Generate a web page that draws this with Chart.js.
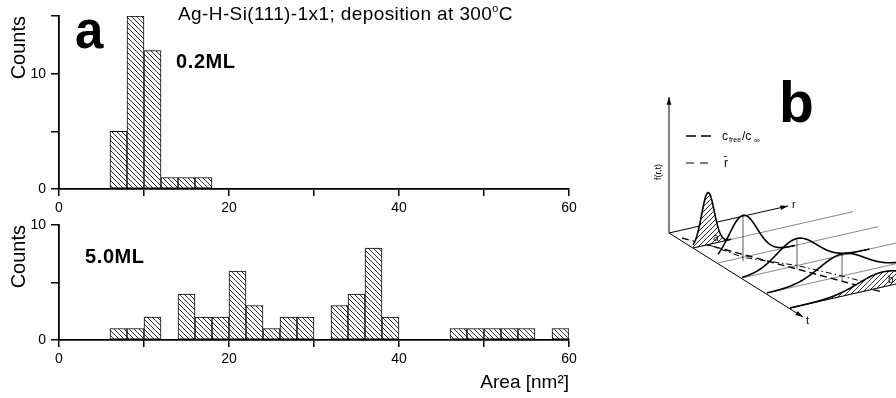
<!DOCTYPE html>
<html><head><meta charset="utf-8">
<script src="https://cdn.jsdelivr.net/npm/chart.js@4/dist/chart.umd.min.js"></script>
<style>
html,body{margin:0;padding:0;background:#fff;}
body{width:896px;height:398px;overflow:hidden;position:relative;font-family:"Liberation Sans",Arial,sans-serif;}
canvas{position:absolute;}
.lbl{position:absolute;white-space:nowrap;line-height:1;color:#000;}
</style></head><body>
<canvas id="top" width="620" height="218" style="left:0;top:0"></canvas>
<canvas id="bot" width="620" height="193" style="left:0;top:205px"></canvas>
<canvas id="sch" width="276" height="300" style="left:620px;top:60px"></canvas>
<div class="lbl" style="left:178px;top:4px;font-size:19px;letter-spacing:0.4px">Ag-H-Si(111)-1x1; deposition at 300<span style="font-size:11px;position:relative;top:-8px">o</span>C</div>
<div class="lbl" style="left:75px;top:5px;font-size:51px;font-weight:bold">a</div>
<div class="lbl" style="left:176px;top:51px;font-size:20px;font-weight:bold;letter-spacing:0.6px">0.2ML</div>
<div class="lbl" style="left:85px;top:246px;font-size:20px;font-weight:bold;letter-spacing:0.6px">5.0ML</div>
<div class="lbl" style="left:779px;top:74px;font-size:57px;font-weight:bold">b</div>
<script>
// ---- data ----
const binCenters = [1,3,5,7,9,11,13,15,17,19,21,23,25,27,29,31,33,35,37,39,41,43,45,47,49,51,53,55,57,59]; // Area [nm^2], bins 2 nm^2 wide
const counts02ML = [0,0,0,5,15,12,1,1,1,0,0,0,0,0,0,0,0,0,0,0,0,0,0,0,0,0,0,0,0,0];
const counts50ML = [0,0,0,1,1,2,0,4,2,2,6,3,1,2,2,0,3,4,8,2,0,0,0,1,1,1,1,1,0,1];
const xTickLabels = [0,20,40,60];
const yTickLabels = [0,10];

function makeHatch(spacing, forward) {
  const c = document.createElement('canvas');
  c.width = spacing; c.height = spacing;
  const g = c.getContext('2d');
  g.fillStyle = '#fff'; g.fillRect(0,0,spacing,spacing);
  g.strokeStyle = '#1a1a1a'; g.lineWidth = 0.9;
  g.beginPath();
  if (!forward) {
    g.moveTo(-1,-1); g.lineTo(spacing+1,spacing+1);
    g.moveTo(-1,spacing-1); g.lineTo(1,spacing+1);
    g.moveTo(spacing-1,-1); g.lineTo(spacing+1,1);
  } else {
    g.moveTo(-1,spacing+1); g.lineTo(spacing+1,-1);
    g.moveTo(-1,1); g.lineTo(1,-1);
    g.moveTo(spacing-1,spacing+1); g.lineTo(spacing+1,spacing-1);
  }
  g.stroke();
  return g.createPattern(c,'repeat');
}
const barHatch = makeHatch(5, false);
const FONT = '"Liberation Sans", Arial, sans-serif';

function hist(id, counts, yMax, padTop, xHeight, xTitle) {
  return new Chart(document.getElementById(id), {
    type: 'bar',
    data: {
      datasets: [{
        data: binCenters.map((x,i) => ({x: x, y: counts[i] === 0 ? null : counts[i]})),
        backgroundColor: barHatch,
        borderColor: '#000',
        borderWidth: 1,
        borderSkipped: false,
        barPercentage: 1,
        categoryPercentage: 1
      }]
    },
    options: {
      responsive: false, animation: false, devicePixelRatio: 1,
      layout: {padding: {top: padTop, right: 51, left: 0, bottom: 0}},
      plugins: {legend: {display: false}, tooltip: {enabled: false}},
      scales: {
        x: {
          type: 'linear', min: 0, max: 60, offset: false,
          afterFit: s => { s.height = xHeight; },
          grid: {display: true, drawOnChartArea: false, drawTicks: true, tickLength: 7, color: '#000', lineWidth: 1.5, offset: false},
          border: {display: true, color: '#000', width: 1.8},
          ticks: {stepSize: 10, autoSkip: false, maxRotation: 0, padding: 4, color: '#000',
                  font: {family: FONT, size: 14},
                  callback: v => xTickLabels.includes(v) ? String(v) : ''},
          title: xTitle ? {display: true, text: 'Area [nm²]', align: 'end', color: '#000',
                  font: {family: FONT, size: 19},
                  padding: {top: 0, bottom: 4}} : {display: false}
        },
        y: {
          min: 0, max: yMax,
          afterFit: s => { s.width = 59; },
          grid: {display: true, drawOnChartArea: false, drawTicks: true, tickLength: 8, color: '#000', lineWidth: 1.5},
          border: {display: true, color: '#000', width: 1.8},
          ticks: {stepSize: 5, autoSkip: false, padding: 5, color: '#000',
                  font: {family: FONT, size: 14},
                  callback: v => yTickLabels.includes(v) ? String(v) : ''},
          title: {display: true, text: 'Counts', align: 'end', color: '#000',
                  font: {family: FONT, size: 20},
                  padding: {top: 7, bottom: 0}}
        }
      }
    }
  });
}
hist('top', counts02ML, 15, 16, 29, false);
hist('bot', counts50ML, 10, 20, 58, true);

// ---- panel b: schematic illustration (not data) ----
const schematic = {
  id: 'schematic',
  afterDraw(chart) {
    const g = chart.ctx;
    g.save();
    const slope = -0.227;
    const O = {x: 49, y: 173};
    function arrow(x0,y0,x1,y1,w) {
      g.strokeStyle = '#000'; g.lineWidth = w || 1; g.setLineDash([]);
      g.beginPath(); g.moveTo(x0,y0); g.lineTo(x1,y1); g.stroke();
      const a = Math.atan2(y1-y0, x1-x0), L = 8;
      g.fillStyle = '#000'; g.beginPath();
      g.moveTo(x1,y1);
      g.lineTo(x1 - L*Math.cos(a-0.3), y1 - L*Math.sin(a-0.3));
      g.lineTo(x1 - L*Math.cos(a+0.3), y1 - L*Math.sin(a+0.3));
      g.closePath(); g.fill();
    }
    arrow(O.x, O.y, O.x, 37, 1);
    arrow(O.x, O.y, 168, 146, 1);
    arrow(O.x, O.y, 183, 257, 1);
    g.font = '11px "Liberation Sans", Arial'; g.fillStyle = '#000';
    g.fillText('r', 172, 148); g.fillText('t', 186, 264);
    const curves = [
      {sx: 73, sy: 188, c: 15, h: 52, w: 9, hatch: true, lab: 'a'},
      {sx: 98, sy: 203, c: 25, h: 42, w: 20},
      {sx: 122, sy: 218, c: 55, h: 27, w: 28},
      {sx: 147, sy: 233, c: 75, h: 22, w: 32},
      {sx: 170, sy: 248, c: 93, h: 15, w: 35, hatch: true, lab: 'b'}
    ];
    const pat = makeHatch(5, true);
    g.lineWidth = 0.7; g.strokeStyle = '#555';
    curves.forEach(cv => {
      g.beginPath(); g.moveTo(cv.sx, cv.sy); g.lineTo(cv.sx + 160, cv.sy + slope*160); g.stroke();
    });
    g.strokeStyle = '#000'; g.lineWidth = 1;
    g.setLineDash([6,3,1.5,3]);
    g.beginPath();
    curves.forEach((cv,i) => { const X = cv.sx + cv.c, Y = cv.sy + slope*cv.c; i ? g.lineTo(X,Y) : g.moveTo(X,Y); });
    g.stroke();
    g.setLineDash([7,4]); g.lineWidth = 1.4;
    g.beginPath(); g.moveTo(62, 178); g.lineTo(262, 232); g.stroke();
    g.setLineDash([]);
    curves.forEach(cv => {
      const umax = Math.min(cv.c + 2.6*cv.w, 276 - cv.sx);
      const pts = [];
      for (let u = 0; u <= umax; u += 0.5) {
        pts.push([cv.sx + u, cv.sy + slope*u - cv.h*Math.exp(-Math.pow((u-cv.c)/cv.w, 2))]);
      }
      if (cv.hatch) {
        g.fillStyle = pat; g.beginPath(); g.moveTo(cv.sx, cv.sy);
        pts.forEach(p => g.lineTo(p[0], p[1]));
        g.lineTo(cv.sx + umax, cv.sy + slope*umax); g.closePath(); g.fill();
        g.lineWidth = 1; g.strokeStyle = '#000';
        g.beginPath(); g.moveTo(cv.sx, cv.sy); g.lineTo(cv.sx + umax, cv.sy + slope*umax); g.stroke();
      } else {
        g.lineWidth = 0.8; g.strokeStyle = '#333';
        g.beginPath(); g.moveTo(cv.sx + cv.c, cv.sy + slope*cv.c - cv.h); g.lineTo(cv.sx + cv.c, cv.sy + slope*cv.c + 4); g.stroke();
      }
      g.lineWidth = 1.6; g.strokeStyle = '#000';
      g.beginPath(); pts.forEach((p,i) => i ? g.lineTo(p[0],p[1]) : g.moveTo(p[0],p[1])); g.stroke();
      if (cv.lab) {
        g.fillStyle = '#000'; g.font = '10px "Liberation Sans", Arial';
        g.fillText(cv.lab, cv.sx + cv.c + 5, cv.sy + slope*cv.c - 4);
      }
    });
    g.strokeStyle = '#000'; g.lineWidth = 1.6; g.setLineDash([10,5]);
    g.beginPath(); g.moveTo(66, 76); g.lineTo(93, 76); g.stroke();
    g.lineWidth = 1; g.setLineDash([8,6]);
    g.beginPath(); g.moveTo(66, 103); g.lineTo(93, 103); g.stroke();
    g.setLineDash([]);
    g.fillStyle = '#000';
    g.font = '12px "Liberation Sans", Arial'; g.fillText('c', 102, 80);
    g.font = '7px "Liberation Sans", Arial'; g.fillText('free', 109, 82);
    g.font = '12px "Liberation Sans", Arial'; g.fillText('/c', 122, 80);
    g.font = '8px "Liberation Sans", Arial'; g.fillText('∞', 134, 83);
    g.font = '12px "Liberation Sans", Arial'; g.fillText('r̄', 104, 107);
    g.save(); g.translate(41, 112); g.rotate(-Math.PI/2);
    g.font = '9px "Liberation Sans", Arial'; g.textAlign = 'center'; g.fillText('f(r,t)', 0, 0);
    g.restore();
    g.restore();
  }
};
new Chart(document.getElementById('sch'), {
  type: 'scatter',
  data: {datasets: []},
  options: {responsive: false, animation: false, devicePixelRatio: 1,
    plugins: {legend: {display: false}, tooltip: {enabled: false}},
    scales: {x: {display: false}, y: {display: false}}},
  plugins: [schematic]
});
</script>
</body></html>
